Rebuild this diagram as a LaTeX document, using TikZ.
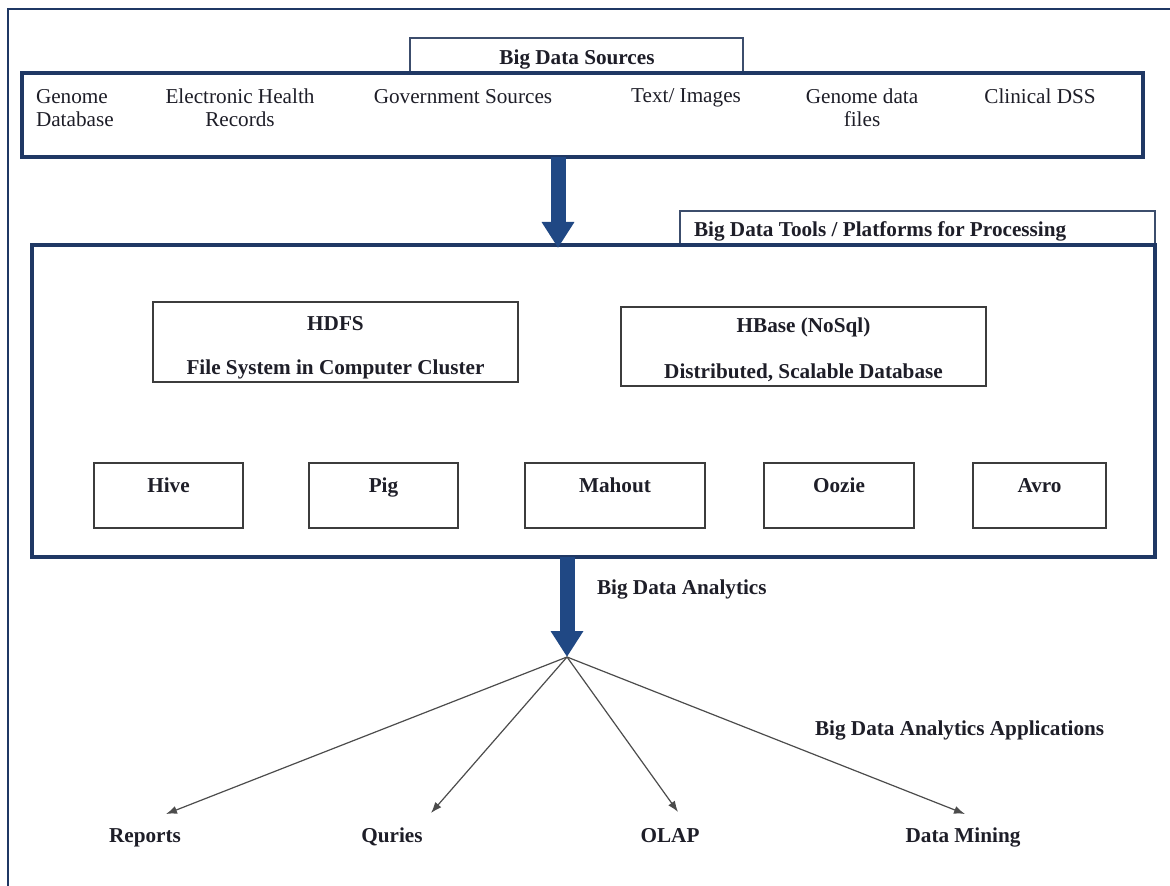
\documentclass[tikz,border=0pt]{standalone}
\usepackage{fontspec}
\setmainfont{Liberation Serif}
\usetikzlibrary{arrows.meta,calc}
\definecolor{navy}{RGB}{31,56,100}
\definecolor{arrowblue}{RGB}{32,72,132}
\definecolor{boxgray}{RGB}{60,60,60}
\definecolor{inkcol}{RGB}{30,30,40}
\begin{document}
\begin{tikzpicture}[x=0.5pt,y=-0.5pt,
  every node/.style={inner sep=0pt, outer sep=0pt, text=inkcol, font=\fontsize{10.6pt}{11.5pt}\selectfont},
  frame/.style={draw=navy, line width=1.4pt},
  mainbox/.style={draw=navy, line width=1.6pt, fill=white, rectangle},
  titlebox/.style={draw=navy!70!gray, line width=0.8pt, fill=white, rectangle},
  toolbox/.style={draw=boxgray, line width=0.8pt, fill=white, rectangle},
  btxt/.style={font=\fontsize{10.6pt}{11.5pt}\selectfont\bfseries},
  bigarrow/.style={draw=arrowblue, line width=7.5pt, -{Triangle[width=15.5pt,length=13pt]}},
  thinarrow/.style={draw=black!70, line width=0.6pt, -{Latex[length=5.5pt,width=4pt]}}
]
\useasboundingbox (0,0) rectangle (1170,886);
\fill[white] (0,0) rectangle (1170,886);
% outer frame (top and left edges visible)
\draw[frame] (8,886) -- (8,9) -- (1170,9);

% ---- Big Data Sources ----
\node[titlebox, minimum width=166.5pt, minimum height=17.5pt] (srcT) at (576.5,55.5) {};
\node[mainbox, minimum width=560.5pt, minimum height=42pt] (src) at (582.5,115) {};
\node[btxt, anchor=base] (srcTl) at (577,65) {Big Data Sources};
\node[anchor=north west, align=left] (s1) at (36,89) {Genome\\Database};
\node[anchor=north, align=center] (s2) at (240,89) {Electronic Health\\Records};
\node[anchor=north, align=center] (s3) at (463,89) {Government Sources};
\node[anchor=north, align=center] (s4) at (686,89) {Text/ Images};
\node[anchor=north, align=center] (s5) at (862,89) {Genome data\\files};
\node[anchor=north, align=center] (s6) at (1040,89) {Clinical DSS};

% ---- Tools / Platforms ----
\node[titlebox, minimum width=237.5pt, minimum height=17pt] (toolsT) at (917.5,228) {};
\node[mainbox, minimum width=561.5pt, minimum height=156pt] (tools) at (593.5,401) {};
\node[btxt, anchor=base west] (toolsTl) at (694,237) {Big Data Tools / Platforms for Processing};

\node[toolbox, minimum width=182.5pt, minimum height=40pt] (hdfs) at (335.5,342) {};
\node[btxt, anchor=base] (hdfs1) at (335.5,331) {HDFS};
\node[btxt, anchor=base] (hdfs2) at (335.5,375) {File System in Computer Cluster};

\node[toolbox, minimum width=182.5pt, minimum height=39.5pt] (hbase) at (803.5,346.5) {};
\node[btxt, anchor=base] (hbase1) at (803.5,333) {HBase (NoSql)};
\node[btxt, anchor=base] (hbase2) at (803.5,379) {Distributed, Scalable Database};

\node[toolbox, minimum width=74.5pt, minimum height=32.5pt] (hive) at (168.5,495.5) {};
\node[toolbox, minimum width=74.5pt, minimum height=32.5pt] (pig) at (383.5,495.5) {};
\node[toolbox, minimum width=90pt, minimum height=32.5pt] (mahout) at (615,495.5) {};
\node[toolbox, minimum width=75pt, minimum height=32.5pt] (oozie) at (839,495.5) {};
\node[toolbox, minimum width=66.5pt, minimum height=32.5pt] (avro) at (1039.5,495.5) {};
\node[btxt, anchor=base] (hivel) at (168.5,493) {Hive};
\node[btxt, anchor=base] (pigl) at (383.5,493) {Pig};
\node[btxt, anchor=base] (mahoutl) at (615,493) {Mahout};
\node[btxt, anchor=base] (ooziel) at (839,493) {Oozie};
\node[btxt, anchor=base] (avrol) at (1039.5,493) {Avro};

% ---- big arrows ----
\coordinate (a1) at (558,0);
\coordinate (hub) at (567,657);
\draw[bigarrow] (src.south -| a1) -- ([yshift=-1.5pt]tools.north -| a1);
\draw[bigarrow] (tools.south -| hub) -- (hub);
\node[btxt, anchor=base west] (bda) at (597,594) {Big Data Analytics};

% ---- applications ----
\node[btxt, anchor=base west] (bdaa) at (815,735) {Big Data Analytics Applications};
\node[btxt, anchor=base] (rep) at (145,842) {Reports};
\node[btxt, anchor=base] (qur) at (392,842) {Quries};
\node[btxt, anchor=base] (olap) at (670,842) {OLAP};
\node[btxt, anchor=base] (dm) at (963,842) {Data Mining};
\coordinate (t1) at (166,814);
\coordinate (t2) at (431,813);
\coordinate (t3) at (678,812);
\coordinate (t4) at (965,814);
\draw[thinarrow] (hub) -- (t1);
\draw[thinarrow] (hub) -- (t2);
\draw[thinarrow] (hub) -- (t3);
\draw[thinarrow] (hub) -- (t4);
\end{tikzpicture}
\end{document}
